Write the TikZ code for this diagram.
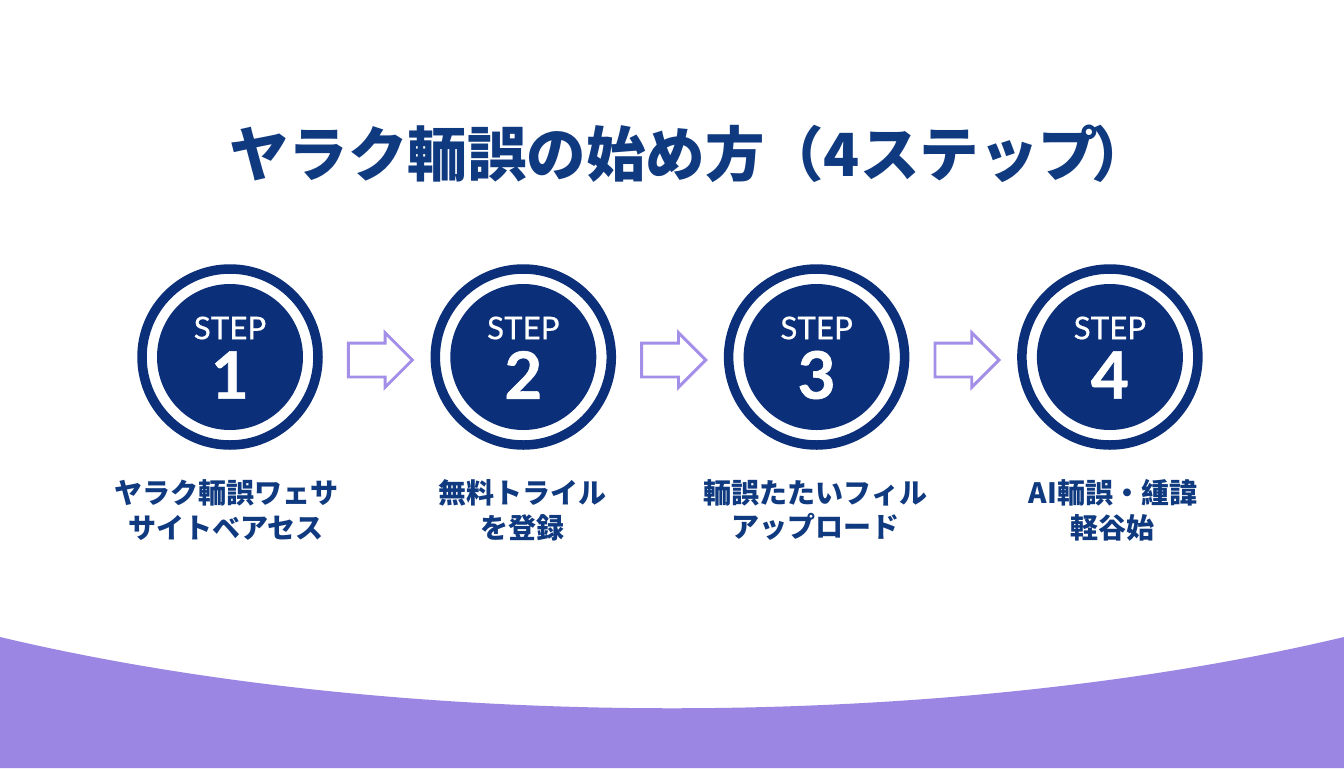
\documentclass[tikz,border=0pt]{standalone}
\usepackage{fontspec}
\usetikzlibrary{calc}
\usetikzlibrary{shapes.arrows}
\setmainfont{Lato}
\newfontfamily\jpfont{Noto Sans CJK JP}
\newfontfamily\stepfont[FakeBold=0.5]{Lato}
\newfontfamily\stepnumfont[BoldFeatures={FakeBold=1}]{Lato}
\definecolor{stepnavy}{HTML}{0B2F78}
\definecolor{titlenavy}{HTML}{103A80}
\definecolor{bandpurple}{HTML}{9B86E3}
\definecolor{arrowpurple}{HTML}{A48FE8}
\newcommand{\tikzstepgap}{293.3}
\tikzset{
  stepdisc/.style={circle,fill=stepnavy,draw=none,minimum size=146*0.75pt,inner sep=0pt},
  stepring/.style={circle,draw=stepnavy,line width=9.5*0.75pt,minimum size=176*0.75pt,inner sep=0pt},
  steplabel/.style={text=white,font=\stepfont\fontsize{23.5pt}{24pt}\selectfont,inner sep=0pt},
  stepnumber/.style={text=white,font=\stepnumfont\bfseries\fontsize{49pt}{50pt}\selectfont,inner sep=0pt},
  stepcaption/.style={text=titlenavy,align=center,inner sep=0pt,font=\jpfont\bfseries\fontsize{21pt}{26.2pt}\selectfont},
  blockarrow/.style={single arrow,draw=arrowpurple,fill=white,line width=2.2pt,inner sep=0pt,outer sep=0pt,
    text height=31*0.75pt,text depth=0pt,text width=0pt,
    minimum height=64*0.75pt,minimum width=52*0.75pt,single arrow head extend=7.7pt,single arrow tip angle=90},
}
\begin{document}
\begin{tikzpicture}[x=0.75pt,y=-0.75pt]
  \useasboundingbox (0,0) rectangle (1344,768);
  \fill[white] (0,0) rectangle (1344,768);
  % band at the foot
  \fill[bandpurple] (0,637) .. controls (400,732) and (944,732) .. (1344,637) -- (1344,768) -- (0,768) -- cycle;
  % title
  \node[text=titlenavy,inner sep=0pt,anchor=west,font=\jpfont\bfseries\fontsize{44.6pt}{50pt}\selectfont] (title) at (229,154) {ヤラク輀誤の始め方（4ステップ\kern-5pt）};
  % steps
  \foreach \x/\num in {0/1,1/2,2/3,3/4}
  {
    \node[stepring] (ring\num) at ($(230,357)+\x*(\tikzstepgap,0)$) {};
    \node[stepdisc] (disc\num) at (ring\num) {};
    \node[steplabel] (label\num) at ($(ring\num)+(0,-29)$) {STEP};
    \node[stepnumber] (num\num) at ($(ring\num)+(0,18)$) {\num};
  }
  % captions
  \node[stepcaption] (cap1) at ($(ring1)+(-4,153)$) {ヤラク輀誤ワェサ\\サイトベアセス};
  \node[stepcaption] (cap2) at ($(ring2)+(-1,153)$) {無料トライル\\を登録};
  \node[stepcaption] (cap3) at ($(ring3)+(-1,153)$) {輀誤たたいフィル\\アップロード};
  \node[stepcaption] (cap4) at ($(ring4)+(3,153)$) {AI輀誤・緟諱\\軽谷始};
  % arrows
  \path (ring1) -- node[blockarrow,pos=0.456,yshift=-2.25pt] (arrow1) {} (ring2);
  \path (ring2) -- node[blockarrow,pos=0.456,yshift=-2.25pt] (arrow2) {} (ring3);
  \path (ring3) -- node[blockarrow,pos=0.456,yshift=-2.25pt] (arrow3) {} (ring4);
\end{tikzpicture}
\end{document}
